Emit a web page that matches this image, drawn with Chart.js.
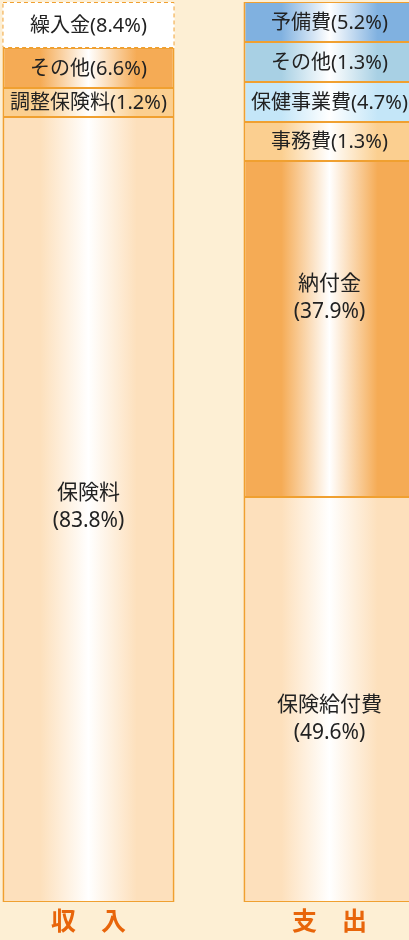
<!DOCTYPE html>
<html lang="ja">
<head>
<meta charset="utf-8">
<script src="https://cdn.jsdelivr.net/npm/chart.js@4.4.1/dist/chart.umd.min.js"></script>
<style>
  html, body { margin: 0; padding: 0; background: #fdefd4; }
  .wrap { position: relative; width: 409px; height: 940px; overflow: hidden; }
  /* canvas is wider than the page so the two category slots land where the
     original bars sit; the right bar runs off the edge like in the source */
  .wrap canvas { position: absolute; left: -32px; top: 0; }
</style>
</head>
<body>
<div class="wrap"><canvas id="c" width="482" height="940"></canvas></div>
<script>
// categories (x axis)
const categories = ["収　入", "支　出"];

// income (収入), bottom to top
const incomeNames = ["保険料", "調整保険料", "その他", "繰入金"];
const incomePct = [83.8, 1.2, 6.6, 8.4];
const incomeHeight = [785, 29, 40, 46];          // drawn extent
const incomeColor = ["#fde0bc", "#fbcf90", "#f5ab55", "#ffffff"];

// expense (支出), bottom to top
const expenseNames = ["保険給付費", "納付金", "事務費", "保健事業費", "その他", "予備費"];
const expensePct = [49.6, 37.9, 1.3, 4.7, 1.3, 5.2];
const expenseHeight = [405, 336, 39, 40, 40, 40];
const expenseColor = ["#fde0bc", "#f5ab55", "#fbcf90", "#c4e6f8", "#a8d0e4", "#80b1e0"];

const BORDER = "#f0a030";
const FONT = "'Noto Sans', 'Noto Sans CJK JP', sans-serif";
const BAR_PCT = 0.714;

// horizontal shine: base colour at the edges, white in the middle
function shine(ctx, base) {
  const chart = ctx.chart;
  if (base === "#ffffff") return base;
  if (!chart.chartArea || !chart.scales.x) return base;
  const xs = chart.scales.x;
  const cx = xs.getPixelForValue(ctx.dataIndex);
  const half = (xs.width / categories.length) * BAR_PCT / 2;
  const g = chart.ctx.createLinearGradient(cx - half, 0, cx + half, 0);
  g.addColorStop(0, base);
  g.addColorStop(0.22, base);
  g.addColorStop(0.5, "#ffffff");
  g.addColorStop(0.78, base);
  g.addColorStop(1, base);
  return g;
}

function makeSet(name, pct, h, color, col, dashed) {
  const data = [null, null];
  data[col] = h;
  return {
    label: name,
    pct: pct,
    dashed: dashed,
    data: data,
    backgroundColor: (c) => shine(c, color),
    borderColor: BORDER,
    borderWidth: dashed ? 0 : { left: 2, right: 2, top: 1, bottom: 1 },
    borderSkipped: false,
    stack: "s",
  };
}

const datasets = [];
incomeNames.forEach((n, i) =>
  datasets.push(makeSet(n, incomePct[i], incomeHeight[i], incomeColor[i], 0, n === "繰入金")));
expenseNames.forEach((n, i) =>
  datasets.push(makeSet(n, expensePct[i], expenseHeight[i], expenseColor[i], 1, false)));

// big segments get the name and the share on two lines; the source nudges
// them off the exact middle a little
const bigShift = { "保険料": -2, "納付金": -31, "保険給付費": 20 };

const segLabels = {
  id: "segLabels",
  afterDatasetsDraw(chart) {
    const ctx = chart.ctx;
    ctx.save();
    chart.data.datasets.forEach((ds, di) => {
      const meta = chart.getDatasetMeta(di);
      meta.data.forEach((bar, i) => {
        if (ds.data[i] == null) return;
        const top = Math.min(bar.y, bar.base), bot = Math.max(bar.y, bar.base);
        const cy = (top + bot) / 2;
        if (ds.dashed) {
          ctx.strokeStyle = BORDER;
          ctx.lineWidth = 1;
          ctx.setLineDash([4, 3]);
          ctx.strokeRect(bar.x - bar.width / 2 + 0.5, top + 0.5, bar.width - 1, bot - top - 1);
          ctx.setLineDash([]);
        }
        ctx.fillStyle = "#222";
        ctx.textAlign = "center";
        ctx.textBaseline = "middle";
        if (ds.label in bigShift) {
          const y = cy + bigShift[ds.label];
          ctx.font = "21px " + FONT;
          ctx.fillText(ds.label, bar.x, y - 14);
          ctx.fillText("(" + ds.pct + "%)", bar.x, y + 14);
        } else {
          ctx.font = "20px " + FONT;
          ctx.fillText(ds.label + "(" + ds.pct + "%)", bar.x, cy + 1);
        }
      });
    });
    ctx.restore();
  },
};

new Chart(document.getElementById("c"), {
  type: "bar",
  data: { labels: categories, datasets: datasets },
  plugins: [segLabels],
  options: {
    responsive: false,
    animation: false,
    layout: { padding: { top: 2, left: 0, right: 0, bottom: 0 } },
    datasets: { bar: { categoryPercentage: 1, barPercentage: BAR_PCT } },
    plugins: { legend: { display: false }, tooltip: { enabled: false } },
    scales: {
      x: {
        stacked: true,
        grid: { display: false, drawTicks: false },
        border: { display: false },
        afterFit: (s) => { s.height = 38; },
        ticks: {
          color: "#e8650a",
          padding: 3,
          font: { family: "'Noto Sans CJK JP', sans-serif", size: 25, weight: "bold" },
        },
      },
      y: { stacked: true, display: false, min: 0, max: 900 },
    },
  },
});
</script>
</body>
</html>
